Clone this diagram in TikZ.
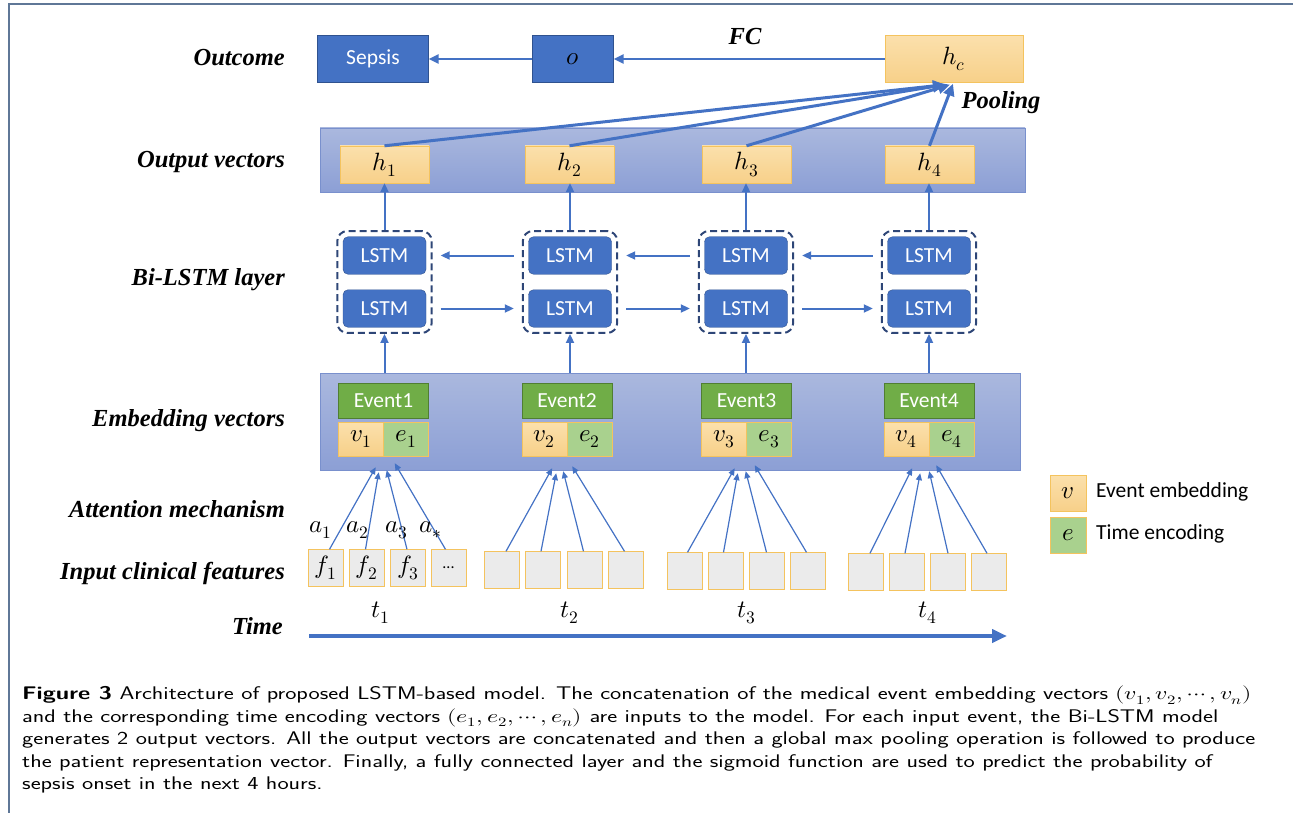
\documentclass[tikz,border=0pt]{standalone}
\usepackage{amsmath}
\usepackage{fontspec}
\usepackage{unicode-math}
\usepackage{graphicx}
\usepackage{tikz}
\usetikzlibrary{arrows.meta,calc,fit}
\newfontfamily\labfont{Liberation Serif}
\newfontfamily\boxfont{Carlito}
\definecolor{ppblue}{HTML}{4472C4}
\definecolor{ppdark}{HTML}{2F528F}
\definecolor{ppgreen}{HTML}{70AD47}
\definecolor{ppgreendk}{HTML}{507E32}
\definecolor{pplgreen}{HTML}{A9D18E}
\definecolor{pporange}{HTML}{F7D089}
\definecolor{pporangetop}{HTML}{FBE0AC}
\definecolor{ppgold}{HTML}{F4C35E}
\definecolor{ppband}{HTML}{8C9FD5}
\definecolor{ppbandtop}{HTML}{AAB8DE}
\definecolor{ppbandedge}{HTML}{7990CD}
\definecolor{ppgrey}{HTML}{EBEBEB}
\definecolor{ppframe}{HTML}{5F7797}
\definecolor{ppdash}{HTML}{2E4677}

\begin{document}
\begin{tikzpicture}[x=1pt,y=-1pt,
    every node/.style={inner sep=0pt},
    rowlabel/.style={anchor=east,font=\labfont\bfseries\itshape\fontsize{24.5}{28}\selectfont},
    mathlabel/.style={font=\fontsize{25}{29}\selectfont},
    bluebox/.style={draw=ppdark,fill=ppblue,text=white,font=\boxfont\fontsize{21.5}{25}\selectfont},
    lstmbox/.style={bluebox,rounded corners=5pt,minimum width=83pt,minimum height=37.5pt},
    orangebox/.style={draw=ppgold,top color=pporangetop,bottom color=pporange,font=\fontsize{25}{29}\selectfont},
    greenbox/.style={draw=ppgold,fill=pplgreen,font=\fontsize{25}{29}\selectfont},
    eventbox/.style={draw=ppgreendk,fill=ppgreen,text=white,minimum width=90pt,minimum height=35pt,font=\boxfont\fontsize{21.5}{25}\selectfont},
    band/.style={draw=ppbandedge,top color=ppbandtop,bottom color=ppband},
    featbox/.style={draw=ppgold,fill=ppgrey,minimum width=35pt,minimum height=37pt,font=\fontsize{25}{29}\selectfont},
    grpbox/.style={draw=ppdash,line width=2pt,dash pattern=on 7pt off 4pt,rounded corners=10pt,inner sep=5.5pt},
    arr/.style={draw=ppblue,line width=2pt,-{Triangle[length=9pt,width=8pt]}},
    outarr/.style={draw=ppblue,line width=2.5pt,-{Triangle[length=10pt,width=9pt]}},
    poolarr/.style={draw=ppblue,line width=3pt,-{Triangle[length=12pt,width=11pt]}},
    attarr/.style={draw=ppblue,line width=1.2pt,-{Triangle[length=7pt,width=6pt]}},
    timearr/.style={draw=ppblue,line width=4pt,-{Triangle[length=15pt,width=13pt]}},
    frame/.style={draw=ppframe,line width=2pt}]
    \useasboundingbox (0,0) rectangle (1293,813);
    \draw[frame] (9,813) -- (9,4) -- (1293,4);

    % row labels
    \node[rowlabel] (lout) at (285,58) {Outcome};
    \node[rowlabel] (lvec) at (285,162) {Output vectors};
    \node[rowlabel] (llstm) at (285,280) {Bi-LSTM layer};
    \node[rowlabel] (lemb) at (285,421) {Embedding vectors};
    \node[rowlabel] (latt) at (285,509) {Attention mechanism};
    \node[rowlabel] (lfeat) at (285,573) {Input clinical features};
    \node[rowlabel] (ltime) at (283,626) {Time};

    % outcome row
    \node[bluebox,minimum width=111pt,minimum height=47pt] (sepsis) at (373,59) {Sepsis};
    \node[bluebox,text=black,minimum width=81pt,minimum height=47pt,font=\fontsize{25}{29}\selectfont] (o) at (573,59) {$o$};
    \node[orangebox,minimum width=138pt,minimum height=47pt] (hc) at (954,59) {$h_c$};
    \draw[outarr] (hc) -- (o);
    \draw[outarr] (o) -- (sepsis);
    \node[rowlabel,anchor=center] (lfc) at (745,37) {FC};
    \node[rowlabel,anchor=center] (lpool) at (1001,103) {Pooling};

    % output vectors
    \node[band,minimum width=705pt,minimum height=64pt] (outband) at (672.5,160) {};
    \node[orangebox,minimum width=89pt,minimum height=37pt] (h1) at (384.5,164.5) {$h_1$};
    \node[orangebox,minimum width=89pt,minimum height=37pt] (h2) at (569.5,164.5) {$h_2$};
    \node[orangebox,minimum width=89pt,minimum height=37pt] (h3) at (746.5,164.5) {$h_3$};
    \node[orangebox,minimum width=89pt,minimum height=37pt] (h4) at (929.5,164.5) {$h_4$};
    \draw[poolarr] (h1.north) -- ($(hc.south)+(-9,2)$);
    \draw[poolarr] (h2.north) -- ($(hc.south)+(-9,2)$);
    \draw[poolarr] (h3.north) -- ($(hc.south)+(-4,2)$);
    \draw[poolarr] (h4.north) -- ($(hc.south)+(-1,1)$);

    % Bi-LSTM layer
    \node[lstmbox] (lu1) at (384.5,255.5) {LSTM};
    \node[lstmbox] (ld1) at (384.5,308.5) {LSTM};
    \node[lstmbox] (lu2) at (570,255.5) {LSTM};
    \node[lstmbox] (ld2) at (570,308.5) {LSTM};
    \node[lstmbox] (lu3) at (746,255.5) {LSTM};
    \node[lstmbox] (ld3) at (746,308.5) {LSTM};
    \node[lstmbox] (lu4) at (929,255.5) {LSTM};
    \node[lstmbox] (ld4) at (929,308.5) {LSTM};
    \node[grpbox,fit=(lu1)(ld1)] (g1) {};
    \node[grpbox,fit=(lu2)(ld2)] (g2) {};
    \node[grpbox,fit=(lu3)(ld3)] (g3) {};
    \node[grpbox,fit=(lu4)(ld4)] (g4) {};
    \draw[arr] ($(g2.west|-lu2)+(-8,0)$) -- ($(g1.east|-lu1)+(8,0)$);
    \draw[arr] ($(g3.west|-lu3)+(-8,0)$) -- ($(g2.east|-lu2)+(8,0)$);
    \draw[arr] ($(g4.west|-lu4)+(-8,0)$) -- ($(g3.east|-lu3)+(8,0)$);
    \draw[arr] ($(g1.east|-ld1)+(8,0)$) -- ($(g2.west|-ld2)+(-8,0)$);
    \draw[arr] ($(g2.east|-ld2)+(8,0)$) -- ($(g3.west|-ld3)+(-8,0)$);
    \draw[arr] ($(g3.east|-ld3)+(8,0)$) -- ($(g4.west|-ld4)+(-8,0)$);
    \draw[arr] (g1.north) -- (g1.north|-h1.south);
    \draw[arr] (g2.north) -- (g2.north|-h2.south);
    \draw[arr] (g3.north) -- (g3.north|-h3.south);
    \draw[arr] (g4.north) -- (g4.north|-h4.south);

    % embedding vectors
    \node[band,minimum width=700pt,minimum height=97pt] (embband) at (670,421.5) {};
    \draw[arr] (g1.south|-embband.north) -- (g1.south);
    \draw[arr] (g2.south|-embband.north) -- (g2.south);
    \draw[arr] (g3.south|-embband.north) -- (g3.south);
    \draw[arr] (g4.south|-embband.north) -- (g4.south);
    \node[eventbox] (ev1) at (383.5,401) {Event1};
    \node[eventbox] (ev2) at (567,401) {Event2};
    \node[eventbox] (ev3) at (746.5,401) {Event3};
    \node[eventbox] (ev4) at (929,401) {Event4};
    \node[orangebox,minimum width=45pt,minimum height=34pt] (v1) at (361,439) {$v_1$};
    \node[greenbox,minimum width=45pt,minimum height=34pt] (e1) at (406,439) {$e_1$};
    \node[orangebox,minimum width=45pt,minimum height=34pt] (v2) at (544.5,439) {$v_2$};
    \node[greenbox,minimum width=45pt,minimum height=34pt] (e2) at (589.5,439) {$e_2$};
    \node[orangebox,minimum width=45pt,minimum height=34pt] (v3) at (724,439) {$v_3$};
    \node[greenbox,minimum width=45pt,minimum height=34pt] (e3) at (769,439) {$e_3$};
    \node[orangebox,minimum width=45pt,minimum height=34pt] (v4) at (906.5,439) {$v_4$};
    \node[greenbox,minimum width=45pt,minimum height=34pt] (e4) at (951.5,439) {$e_4$};

    % input clinical features
    \node[featbox] (f11) at (325.5,568) {$f_1$};
    \node[featbox] (f12) at (366.5,568) {$f_2$};
    \node[featbox] (f13) at (408,568) {$f_3$};
    \node[featbox,font=\boxfont\fontsize{16}{20}\selectfont] (f14) at (448.5,568) {...};
    \node[featbox] (f21) at (502,570) {};
    \node[featbox] (f22) at (543,570) {};
    \node[featbox] (f23) at (584.5,570) {};
    \node[featbox] (f24) at (625.5,570) {};
    \node[featbox] (f31) at (684.5,571) {};
    \node[featbox] (f32) at (725.5,571) {};
    \node[featbox] (f33) at (766.5,571) {};
    \node[featbox] (f34) at (807.5,571) {};
    \node[featbox] (f41) at (866,572) {};
    \node[featbox] (f42) at (907,572) {};
    \node[featbox] (f43) at (948,572) {};
    \node[featbox] (f44) at (989,572) {};

    % attention mechanism
    \draw[attarr] ($(f11.north)+(4,0)$) -- ($(v1.south east)+(-8,11)$);
    \draw[attarr] ($(f12.north)+(-1,0)$) -- ($(v1.south east)+(-5,16)$);
    \draw[attarr] ($(f13.north)+(-1,0)$) -- ($(v1.south east)+(3,14)$);
    \draw[attarr] ($(f14.north)+(-3,0)$) -- ($(v1.south east)+(11,7)$);
    \draw[attarr] ($(f21.north)+(4,0)$) -- ($(v2.south east)+(-15,12)$);
    \draw[attarr] ($(f22.north)+(-2,0)$) -- ($(v2.south east)+(-11,17)$);
    \draw[attarr] ($(f23.north)+(-1,0)$) -- ($(v2.south east)+(-4,15)$);
    \draw[attarr] ($(f24.north)+(-1,0)$) -- ($(v2.south east)+(5,10)$);
    \draw[attarr] ($(f31.north)+(3,0)$) -- ($(v3.south east)+(-12,12)$);
    \draw[attarr] ($(f32.north)+(-2,0)$) -- ($(v3.south east)+(-9,17)$);
    \draw[attarr] ($(f33.north)+(0,0)$) -- ($(v3.south east)+(-1,15)$);
    \draw[attarr] ($(f34.north)+(-1,0)$) -- ($(v3.south east)+(8,9)$);
    \draw[attarr] ($(f41.north)+(4,0)$) -- ($(v4.south east)+(-17,12)$);
    \draw[attarr] ($(f42.north)+(-2,0)$) -- ($(v4.south east)+(-9,17)$);
    \draw[attarr] ($(f43.north)+(0,0)$) -- ($(v4.south east)+(0,15)$);
    \draw[attarr] ($(f44.north)+(-2,0)$) -- ($(v4.south east)+(7,9)$);
    \node[mathlabel] (a1) at (321,530) {$a_1$};
    \node[mathlabel] (a2) at (358,530) {$a_2$};
    \node[mathlabel] (a3) at (397,530) {$a_3$};
    \node[mathlabel] (a4) at (431,530) {$a_*$};

    % time
    \node[mathlabel] (t1) at (381,613) {$t_1$};
    \node[mathlabel] (t2) at (570,613) {$t_2$};
    \node[mathlabel] (t3) at (747,613) {$t_3$};
    \node[mathlabel] (t4) at (928,613) {$t_4$};
    \coordinate (tstart) at (309,636);
    \coordinate (tend) at (1007,636);
    \draw[timearr] (tstart) -- (tend);

    % legend
    \node[orangebox,minimum width=36pt,minimum height=36pt] (legv) at (1068,493) {$v$};
    \node[greenbox,minimum width=36pt,minimum height=36pt] (lege) at (1068,535) {$e$};
    \node[anchor=west,font=\boxfont\fontsize{21.5}{25}\selectfont] (legvt) at (1096,492) {Event embedding};
    \node[anchor=west,font=\boxfont\fontsize{21.5}{25}\selectfont] (leget) at (1096,534) {Time encoding};

    % caption
    \node[anchor=north west,font=\sffamily\fontsize{18.3}{22.5}\selectfont] (cap) at (22,684)
      {\scalebox{1.3}[1]{\begin{tabular}{@{}l@{}}
       \textbf{Figure 3} Architecture of proposed LSTM-based model. The concatenation of the medical event embedding vectors $(v_1, v_2, \cdots, v_n)$\\
       and the corresponding time encoding vectors $(e_1, e_2, \cdots, e_n)$ are inputs to the model. For each input event, the Bi-LSTM model\\
       generates 2 output vectors. All the output vectors are concatenated and then a global max pooling operation is followed to produce\\
       the patient representation vector. Finally, a fully connected layer and the sigmoid function are used to predict the probability of\\
       sepsis onset in the next 4 hours.
       \end{tabular}}};
\end{tikzpicture}
\end{document}
